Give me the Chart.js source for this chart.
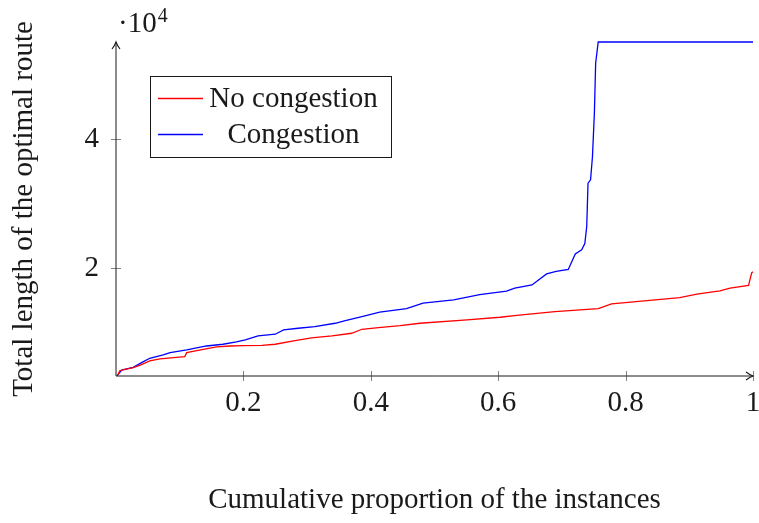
<!DOCTYPE html>
<html>
<head>
<meta charset="utf-8">
<script src="https://cdn.jsdelivr.net/npm/chart.js@4.4.1/dist/chart.umd.min.js"></script>
<style>
  html, body { margin: 0; padding: 0; background: #ffffff; }
  canvas { display: block; }
</style>
</head>
<body>
<canvas id="chart" width="759" height="523"></canvas>
<script>
// Sorted route lengths vs. cumulative share of instances
const noCongestionX = [0.002, 0.006, 0.014, 0.027, 0.038, 0.053, 0.069, 0.095, 0.108, 0.111,
  0.137, 0.158, 0.179, 0.200, 0.229, 0.250, 0.281, 0.307, 0.339, 0.370, 0.386, 0.412, 0.446,
  0.477, 0.551, 0.603, 0.629, 0.689, 0.757, 0.778, 0.825, 0.885, 0.912, 0.948, 0.964, 0.993,
  0.998, 1.0];
const noCongestionY = [3300, 4120, 4340, 4600, 5000, 5630, 5940, 6200, 6300, 6910,
  7440, 7800, 7950, 8000, 8050, 8220, 8780, 9190, 9500, 9920, 10540, 10790, 11100,
  11470, 11980, 12400, 12700, 13270, 13740, 14460, 14900, 15440, 15970, 16480, 16900, 17330,
  19320, 19420];

const congestionX = [0.002, 0.009, 0.027, 0.043, 0.053, 0.074, 0.085, 0.111, 0.142, 0.168,
  0.189, 0.203, 0.223, 0.250, 0.263, 0.286, 0.312, 0.344, 0.360, 0.386, 0.414, 0.456, 0.482,
  0.530, 0.571, 0.613, 0.626, 0.653, 0.676, 0.691, 0.710, 0.721, 0.731, 0.736, 0.739, 0.741,
  0.745, 0.748, 0.751, 0.753, 0.757, 1.0];
const congestionY = [3400, 4230, 4650, 5520, 6050, 6560, 6910, 7330, 7950, 8220,
  8570, 8880, 9500, 9770, 10430, 10700, 10950, 11470, 11880, 12500, 13180, 13740, 14600,
  15090, 15900, 16450, 16900, 17410, 19120, 19500, 19800, 22200, 22840, 23800, 26500, 33180,
  33690, 37300, 44030, 51780, 55040, 55040];

const seriesLabels = ['No congestion', 'Congestion'];
const seriesColors = ['#ff0000', '#0000ff'];
const xTickValues = [0.2, 0.4, 0.6, 0.8, 1];
const yTickValues = [20000, 40000];
const yExponent = 4;
const xRange = [0, 1];
const yRange = [3300, 55040];

const SERIF = '"Liberation Serif", "Times New Roman", serif';
const INK = '#1a1a1a';

function toPoints(xs, ys) {
  return xs.map((x, i) => ({ x: x, y: ys[i] }));
}

// Draws the arrowed axis lines, crossing tick marks, framed legend and the ·10^4 factor
const pgfDecor = {
  id: 'pgfDecor',
  afterDraw(chart) {
    const ctx = chart.ctx;
    const area = chart.chartArea;
    const xs = chart.scales.x;
    const ys = chart.scales.y;
    ctx.save();

    // tick marks crossing the axes
    ctx.strokeStyle = '#666666';
    ctx.lineWidth = 0.8;
    ctx.beginPath();
    xTickValues.forEach(v => {
      const px = Math.round(xs.getPixelForValue(v)) + 0.5;
      ctx.moveTo(px, area.bottom - 5);
      ctx.lineTo(px, area.bottom + 5);
    });
    yTickValues.forEach(v => {
      const py = Math.round(ys.getPixelForValue(v)) + 0.5;
      ctx.moveTo(area.left - 5, py);
      ctx.lineTo(area.left + 5, py);
    });
    ctx.stroke();

    // axis lines
    ctx.strokeStyle = INK;
    ctx.lineWidth = 1;
    ctx.beginPath();
    ctx.moveTo(area.left, area.bottom);
    ctx.lineTo(area.right, area.bottom);
    ctx.moveTo(area.left, area.bottom);
    ctx.lineTo(area.left, area.top);
    ctx.stroke();

    // arrow heads
    ctx.lineWidth = 1.1;
    ctx.beginPath();
    const tx = area.right, ty = area.bottom;
    ctx.moveTo(tx - 7, ty - 4);
    ctx.quadraticCurveTo(tx - 3, ty - 1, tx, ty);
    ctx.quadraticCurveTo(tx - 3, ty + 1, tx - 7, ty + 4);
    const ux = area.left, uy = area.top;
    ctx.moveTo(ux - 4, uy + 7);
    ctx.quadraticCurveTo(ux - 1, uy + 3, ux, uy);
    ctx.quadraticCurveTo(ux + 1, uy + 3, ux + 4, uy + 7);
    ctx.stroke();

    // exponent factor above the y axis
    ctx.fillStyle = INK;
    ctx.textBaseline = 'alphabetic';
    ctx.textAlign = 'left';
    ctx.font = '29px ' + SERIF;
    const base = '\u00b710';
    ctx.fillText(base, area.left + 2, 32);
    const bw = ctx.measureText(base).width;
    ctx.font = '20px ' + SERIF;
    ctx.fillText(String(yExponent), area.left + 2 + bw + 1, 22);

    // legend
    const box = { left: 150, top: 76, right: 391, bottom: 157 };
    ctx.strokeStyle = INK;
    ctx.lineWidth = 1;
    ctx.strokeRect(box.left + 0.5, box.top + 0.5, box.right - box.left, box.bottom - box.top);
    ctx.font = '29px ' + SERIF;
    const rows = [{ y: 98.5, base: 106.5 }, { y: 134.5, base: 142.5 }];
    const textCenter = 293.5;
    chart.data.datasets.forEach((ds, i) => {
      ctx.strokeStyle = ds.borderColor;
      ctx.lineWidth = 1.3;
      ctx.beginPath();
      ctx.moveTo(158, rows[i].y);
      ctx.lineTo(203, rows[i].y);
      ctx.stroke();
      ctx.fillStyle = INK;
      ctx.textAlign = 'center';
      ctx.fillText(ds.label, textCenter, rows[i].base);
    });

    ctx.restore();
  }
};

new Chart(document.getElementById('chart'), {
  type: 'line',
  data: {
    datasets: [
      {
        label: seriesLabels[0],
        data: toPoints(noCongestionX, noCongestionY),
        borderColor: seriesColors[0],
        borderWidth: 1.3,
        pointRadius: 0,
        tension: 0,
        fill: false
      },
      {
        label: seriesLabels[1],
        data: toPoints(congestionX, congestionY),
        borderColor: seriesColors[1],
        borderWidth: 1.3,
        pointRadius: 0,
        tension: 0,
        fill: false
      }
    ]
  },
  options: {
    responsive: false,
    animation: false,
    devicePixelRatio: 1,
    clip: false,
    layout: { padding: { top: 42, right: 6, left: 0, bottom: 0 } },
    plugins: {
      legend: { display: false },
      tooltip: { enabled: false }
    },
    scales: {
      x: {
        type: 'linear',
        min: xRange[0],
        max: xRange[1],
        grid: { display: false, drawTicks: false },
        border: { display: false },
        afterBuildTicks: s => { s.ticks = xTickValues.map(v => ({ value: v })); },
        afterFit: s => { s.height = 147; s.paddingLeft = 0; s.paddingRight = 0; },
        ticks: {
          padding: 10,
          maxRotation: 0,
          autoSkip: false,
          color: INK,
          font: { family: SERIF, size: 29 },
          callback: v => (v === 1 ? '1' : String(v))
        },
        title: {
          display: true,
          text: 'Cumulative proportion of the instances',
          color: INK,
          font: { family: SERIF, size: 29 },
          padding: { top: 0, bottom: 5 }
        }
      },
      y: {
        type: 'linear',
        min: yRange[0],
        max: yRange[1],
        grid: { display: false, drawTicks: false },
        border: { display: false },
        afterBuildTicks: s => { s.ticks = yTickValues.map(v => ({ value: v })); },
        afterFit: s => { s.width = 116; s.paddingTop = 0; s.paddingBottom = 0; },
        ticks: {
          padding: 17,
          color: INK,
          font: { family: SERIF, size: 29 },
          callback: v => String(v / Math.pow(10, yExponent))
        },
        title: {
          display: true,
          text: 'Total length of the optimal route',
          color: INK,
          font: { family: SERIF, size: 29 },
          padding: { top: 7, bottom: 0 }
        }
      }
    }
  },
  plugins: [pgfDecor]
});
</script>
</body>
</html>
